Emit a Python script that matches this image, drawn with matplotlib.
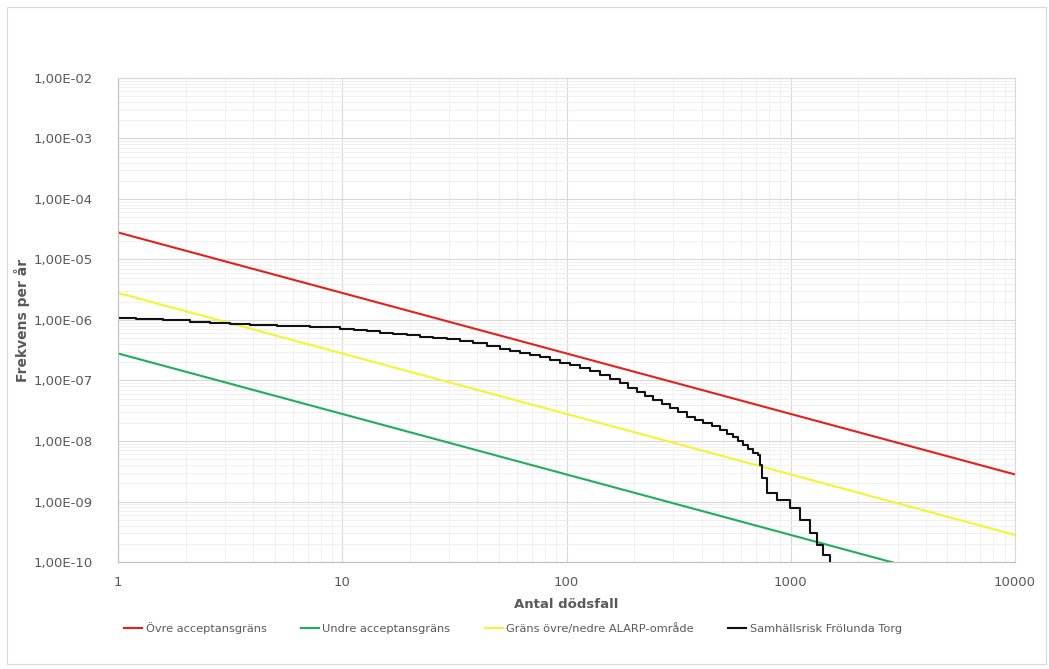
import matplotlib
matplotlib.use("Agg")
import matplotlib.pyplot as plt
from matplotlib.ticker import LogLocator, NullFormatter, FixedLocator
from matplotlib.patches import Rectangle

# ---- data ----
n_limits = [1, 10000]
upper_limit = [2.8e-5, 2.8e-9]      # Övre acceptansgräns
lower_limit = [2.8e-7, 2.8e-11]     # Undre acceptansgräns
alarp_limit = [2.8e-6, 2.8e-10]     # Gräns övre/nedre ALARP-område

n_risk = [1, 1.0001, 1.2, 1.59, 2.1, 2.57, 3.16, 3.88, 5.12, 5.85, 7.18, 9.77, 11.3,
          12.9, 14.7, 16.8, 19.4, 22.2, 25.4, 29.3, 33.5, 38.3, 44.2, 50.5, 56.0, 62,
          68.8, 76, 84.4, 93.5, 104, 115, 127, 141, 156, 173, 188, 206, 224, 243, 267,
          290, 314, 345, 374, 406, 445, 484, 520, 552, 582, 612, 645, 679, 715, 729,
          745, 784, 869, 993, 1100, 1219, 1310, 1393, 1497]
f_risk = [1.12e-6, 1.06e-6, 1.04e-6, 1.0e-6, 9.4e-7, 8.9e-7, 8.6e-7, 8.3e-7, 7.95e-7,
          7.81e-7, 7.66e-7, 7.1e-7, 6.84e-7, 6.6e-7, 6.21e-7, 5.87e-7, 5.59e-7, 5.3e-7,
          5.04e-7, 4.85e-7, 4.5e-7, 4.17e-7, 3.72e-7, 3.32e-7, 3.07e-7, 2.85e-7,
          2.64e-7, 2.45e-7, 2.18e-7, 1.95e-7, 1.77e-7, 1.61e-7, 1.41e-7, 1.23e-7,
          1.06e-7, 9.1e-8, 7.66e-8, 6.46e-8, 5.54e-8, 4.76e-8, 4.09e-8, 3.51e-8,
          2.96e-8, 2.49e-8, 2.22e-8, 1.99e-8, 1.74e-8, 1.52e-8, 1.33e-8, 1.16e-8,
          1.0e-8, 8.6e-9, 7.37e-9, 6.3e-9, 5.9e-9, 4.0e-9, 2.44e-9, 1.38e-9, 1.06e-9,
          7.8e-10, 4.95e-10, 3.0e-10, 1.91e-10, 1.31e-10, 1.0e-10]

x_ticks = [1, 10, 100, 1000, 10000]
x_tick_labels = ["1", "10", "100", "1000", "10000"]
y_ticks = [1e-10, 1e-9, 1e-8, 1e-7, 1e-6, 1e-5, 1e-4, 1e-3, 1e-2]
y_tick_labels = ["1,00E-10", "1,00E-09", "1,00E-08", "1,00E-07", "1,00E-06",
                 "1,00E-05", "1,00E-04", "1,00E-03", "1,00E-02"]
series_names = ["Övre acceptansgräns", "Undre acceptansgräns",
                "Gräns övre/nedre ALARP-område", "Samhällsrisk Frölunda Torg"]

# ---- figure ----
plt.rcParams['font.family'] = ['DejaVu Sans']
fig = plt.figure(figsize=(10.49, 6.69), dpi=100)
fig.patch.set_facecolor("white")
fig.patches.append(Rectangle((0.007, 0.008), 0.99, 0.981, transform=fig.transFigure,
                             fill=False, edgecolor="#d9d9d9", linewidth=0.8))

ax = fig.add_axes([118/1049, 1-562/669, (1015-118)/1049, (562-78)/669])
ax.set_xscale("log")
ax.set_yscale("log")
ax.set_xlim(1, 10000)
ax.set_ylim(1e-10, 1e-2)

txt = "#595959"
l1, = ax.plot(n_limits, upper_limit, color="#e3211c", lw=1.5, label=series_names[0])
l2, = ax.plot(n_limits, lower_limit, color="#1fae5a", lw=1.5, label=series_names[1])
l3, = ax.plot(n_limits, alarp_limit, color="#f4f433", lw=1.5, label=series_names[2])
l4, = ax.plot(n_risk, f_risk, color="#111111", lw=1.5, drawstyle="steps-post",
              label=series_names[3])

ax.xaxis.set_major_locator(FixedLocator(x_ticks))
ax.set_xticklabels(x_tick_labels)
ax.yaxis.set_major_locator(FixedLocator(y_ticks))
ax.set_yticklabels(y_tick_labels)
ax.xaxis.set_minor_locator(LogLocator(base=10, subs=range(2, 10), numticks=20))
ax.yaxis.set_minor_locator(LogLocator(base=10, subs=range(2, 10), numticks=30))
ax.xaxis.set_minor_formatter(NullFormatter())
ax.yaxis.set_minor_formatter(NullFormatter())

ax.grid(which="major", color="#d9d9d9", lw=0.8)
ax.grid(which="minor", color="#f0f0f0", lw=0.7)
ax.set_axisbelow(True)
ax.tick_params(which="both", length=0)
ax.tick_params(axis="y", pad=18, labelsize=9.5, labelcolor=txt)
ax.tick_params(axis="x", pad=10, labelsize=9.5, labelcolor=txt)
for s in ax.spines.values():
    s.set_color("#d9d9d9")
ax.spines["left"].set_color("#bfbfbf")
ax.spines["bottom"].set_color("#bfbfbf")

fig.text(566/1049, 1-604/669, "Antal dödsfall", ha="center", va="center",
         fontsize=9.5, fontweight="bold", color=txt)
fig.text(22/1049, 1-320/669, "Frekvens per år", ha="center", va="center",
         rotation=90, fontsize=10, fontweight="bold", color=txt)

fig.legend(handles=[l1, l2, l3, l4], loc="center", bbox_to_anchor=(513/1049, 1-628/669),
           ncol=4, frameon=False, fontsize=8.2, handlelength=1.6, handletextpad=0.3,
           columnspacing=3.0, labelcolor=txt)

fig.savefig("out.png", dpi=100, facecolor="white")
